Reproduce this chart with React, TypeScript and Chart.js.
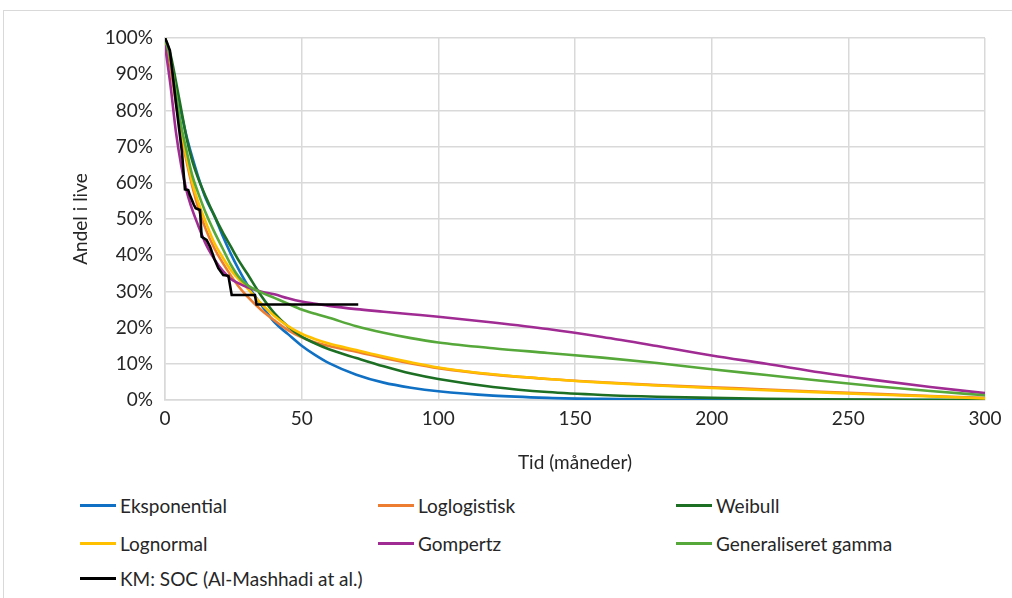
import React, { useEffect, useRef } from "react";
import { Chart, registerables } from "chart.js";
Chart.register(...registerables);

// Time points (months) at which the fitted survival curves were read
const months = [0, 2, 4, 6, 8, 10, 12, 15, 18, 21, 24, 27, 30, 35, 40, 45, 50, 55, 60, 70, 80, 90, 100, 120, 140, 160, 180, 200, 220, 240, 260, 280, 300];

// Survival (%) per model
const eksponential = [100, 93.5, 86, 79, 72.5, 67, 62, 55.5, 51, 45.5, 40.5, 36, 32, 26.5, 21.5, 18.2, 15, 12.4, 10.2, 7, 4.8, 3.4, 2.4, 1.2, 0.6, 0.3, 0.15, 0.08, 0.04, 0.02, 0.01, 0, 0];
const loglogistisk = [100, 92, 82, 73, 65.5, 59, 53.5, 47, 42, 38, 34.5, 31.3, 28.7, 25, 22, 19.3, 17.3, 15.9, 14.9, 13.3, 11.6, 10.1, 8.8, 7, 5.8, 4.9, 4.1, 3.5, 2.9, 2.3, 1.7, 1.1, 0.6];
const weibull = [100, 95.5, 88, 80, 72, 66, 61.5, 56, 51, 46.5, 42.5, 38.5, 35, 29, 24, 20.3, 17.5, 15.6, 14, 11.6, 9.3, 7.3, 5.8, 3.6, 2.2, 1.4, 0.9, 0.6, 0.35, 0.2, 0.1, 0.05, 0];
const lognormal = [100, 94, 84, 74.5, 66.5, 60, 55, 49, 43.5, 39.5, 36, 33.3, 31, 26.8, 23.2, 20.4, 18.3, 16.8, 15.6, 13.8, 12, 10.4, 9, 7.1, 5.8, 4.8, 4, 3.3, 2.7, 2.1, 1.5, 1, 0.4];
const gompertz = [98, 87, 74, 64.5, 57.5, 52.5, 48.5, 43, 39, 35.8, 33.5, 32.2, 31.2, 30, 29.2, 28.1, 27.2, 26.6, 26, 25.1, 24.4, 23.7, 23, 21.4, 19.6, 17.4, 14.9, 12.3, 10, 7.6, 5.5, 3.6, 1.9];
const generaliseretGamma = [100, 94, 84.5, 75.5, 68.5, 62, 57.5, 51.5, 46.5, 42, 37.5, 34, 31.8, 29.8, 28.2, 26.6, 25, 23.8, 22.7, 20.4, 18.6, 17.1, 15.9, 14.3, 13, 11.7, 10.2, 8.5, 6.9, 5.3, 3.8, 2.5, 1.3];

// Kaplan-Meier curve
const kmMonths = [0, 0.6, 1.8, 4, 6.2, 7.3, 8.5, 9.1, 10.5, 11.2, 12.8, 13.4, 15.2, 16.5, 18, 19.5, 21.3, 23.2, 24.4, 32.9, 33.5, 70.7];
const kmSurvival = [100, 99, 96.5, 82, 68.5, 58.2, 58, 56.6, 54, 53, 52.5, 45.1, 44.2, 42.3, 39.1, 36.4, 34.5, 34.3, 29, 29, 26.4, 26.4];

const seriesLabels = ["Eksponential", "Loglogistisk", "Weibull", "Lognormal", "Gompertz", "Generaliseret gamma", "KM: SOC (Al-Mashhadi at al.)"];
const seriesColors = ["#0f70c4", "#ed7d31", "#1d6f24", "#ffc000", "#a02b93", "#56a83a", "#000000"];

const xTicksStep = 50;
const yTicksStep = 10;

const FONT_FAMILY = "Lato, 'Open Sans', sans-serif";
const TEXT_COLOR = "#262626";
const GRID = "#d9d9d9";

export default function App() {
  const ref = useRef<HTMLCanvasElement>(null);

  useEffect(() => {
    document.body.style.margin = "0";
    const canvas = ref.current!;
    const modelData = [eksponential, loglogistisk, weibull, lognormal, gompertz, generaliseretGamma];
    const datasets: any[] = modelData.map((vals, i) => ({
      label: seriesLabels[i],
      data: months.map((m, j) => ({ x: m, y: vals[j] })),
      borderColor: seriesColors[i],
      backgroundColor: seriesColors[i],
      borderWidth: 2.6,
      pointRadius: 0,
      cubicInterpolationMode: "monotone",
      fill: false,
      order: 7 - i,
    }));
    datasets.push({
      label: seriesLabels[6],
      data: kmMonths.map((m, j) => ({ x: m, y: kmSurvival[j] })),
      borderColor: seriesColors[6],
      backgroundColor: seriesColors[6],
      borderWidth: 2.6,
      pointRadius: 0,
      tension: 0,
      fill: false,
      order: 0,
    });

    const font = { family: FONT_FAMILY, size: 19 };
    const chart = new Chart(canvas, {
      type: "line",
      data: { datasets },
      options: {
        responsive: false,
        animation: false,
        layout: { padding: { left: 65, top: 38, right: 27, bottom: 0 } },
        plugins: { legend: { display: false }, tooltip: { enabled: false } },
        scales: {
          x: {
            type: "linear",
            min: 0,
            max: 300,
            ticks: { stepSize: xTicksStep, color: TEXT_COLOR, font, padding: 7 },
            grid: { color: GRID, lineWidth: 1.5, drawTicks: false },
            border: { color: GRID, width: 1.5 },
            title: { display: true, text: "Tid (måneder)", color: TEXT_COLOR, font, padding: { top: 4, bottom: 6 } },
            afterFit: (s: any) => { s.height = 80; },
          },
          y: {
            type: "linear",
            min: 0,
            max: 100,
            ticks: { stepSize: yTicksStep, color: TEXT_COLOR, font, padding: 12, callback: (v: any) => v + "%" },
            grid: { color: GRID, lineWidth: 1.5, drawTicks: false },
            border: { color: GRID, width: 1.5 },
            title: { display: true, text: "Andel i live", color: TEXT_COLOR, font, padding: { top: 4, bottom: 4 } },
            afterFit: (s: any) => { s.width = 100; },
          },
        },
      },
    });
    return () => chart.destroy();
  }, []);

  const legendPos = [
    { x: 80, y: 505 }, { x: 378, y: 505 }, { x: 676, y: 505 },
    { x: 80, y: 543 }, { x: 378, y: 543 }, { x: 676, y: 543 },
    { x: 80, y: 578 },
  ];

  return (
    <div style={{ position: "fixed", left: 0, top: 0, width: 1012, height: 598, overflow: "hidden", background: "#fff" }}>
      <div style={{ position: "absolute", left: 3, top: 10, width: 1100, height: 700, border: `1px solid ${GRID}` }} />
      <canvas ref={ref} width={1012} height={480} style={{ position: "absolute", left: 0, top: 0 }} />
      {seriesLabels.map((lab, i) => (
        <div key={lab} style={{ position: "absolute", left: legendPos[i].x, top: legendPos[i].y - 12, height: 24, display: "flex", alignItems: "center", fontFamily: FONT_FAMILY, fontSize: 19, color: TEXT_COLOR, whiteSpace: "nowrap" }}>
          <div style={{ width: 36, height: 3, background: seriesColors[i], marginRight: 4 }} />
          <span>{lab}</span>
        </div>
      ))}
    </div>
  );
}
